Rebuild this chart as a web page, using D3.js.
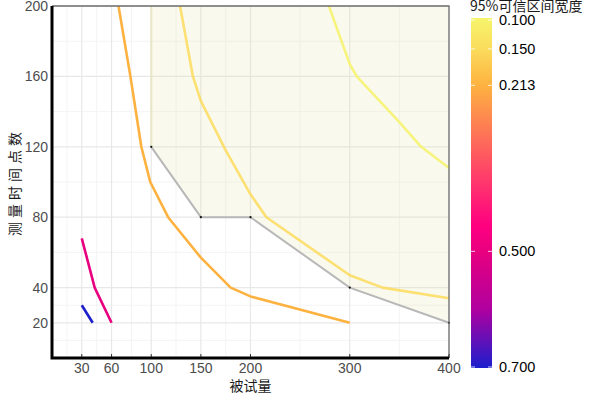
<!DOCTYPE html>
<html lang="zh">
<head>
  <meta charset="UTF-8">
  <title>95%可信区间宽度</title>
  <style>
    body { margin: 0; padding: 0; background: #fff; }
    svg { display: block; }
    .tick-label { font-family: "Liberation Sans", Arial, sans-serif; font-size: 14px; fill: #4d4d4d; }
    .cb-label { font-family: "Liberation Sans", Arial, sans-serif; font-size: 14.5px; fill: #000; }
    .title { font-family: "Noto Sans CJK SC", sans-serif; font-size: 14px; fill: #1a1a1a; }
  </style>
  <script src="https://d3js.org/d3.v7.min.js"></script>
</head>
<body>
  <div id="chart"></div>

  <script>
    // axis ticks
    const xTicks = [30, 60, 100, 150, 200, 300, 400];
    const xMinor = [15, 45, 80, 125, 175, 250, 350];
    const yTicks = [20, 40, 80, 120, 160, 200];
    const yMinor = [10, 30, 60, 100, 140, 180];

    // colour bar
    const cbTicks = [0.1, 0.15, 0.213, 0.5, 0.7];
    const cbStops = [0.1, 0.15, 0.213, 0.455, 0.5, 0.6, 0.7];
    const cbColors = ["#f6f36a", "#fbdc5c", "#fdb240", "#ff0080", "#e8007f", "#b0009f", "#1e1ecc"];

    // contour lines: [被试量, 测量时间点数]
    const levels = [0.7, 0.5, 0.213, 0.15, 0.1];
    const line070 = [[30, 30], [41, 20]];
    const line050 = [[30, 68], [43, 40], [60, 20]];
    const line0213 = [[67, 200], [79, 160], [90, 120], [99, 100], [117, 80], [150, 57], [180, 40], [200, 35], [300, 20]];
    const line015 = [[129, 200], [142, 160], [150, 146], [175, 118], [200, 93], [216, 80], [300, 47], [333, 40], [400, 34]];
    const line010 = [[279, 200], [300, 167], [307, 160], [350, 134], [372, 120], [400, 108]];
    const contourLines = [line070, line050, line0213, line015, line010];

    // minimum design boundary (grey)
    const boundary = [[100, 120], [150, 80], [200, 80], [300, 40], [400, 20]];

    const width = 597, height = 399;
    const svg = d3.select("#chart").append("svg")
      .attr("width", width)
      .attr("height", height);

    const x = d3.scaleLinear().domain([0, 400]).range([52, 449]);
    const y = d3.scaleLinear().domain([0, 200]).range([358, 6]);
    const color = d3.scaleLinear().domain(cbStops).range(cbColors);

    // grid
    const grid = svg.append("g");
    grid.selectAll(".xminor").data(xMinor).enter().append("line")
      .attr("x1", d => x(d)).attr("x2", d => x(d))
      .attr("y1", y(0)).attr("y2", y(200))
      .attr("stroke", "#f4f4f4").attr("stroke-width", 1);
    grid.selectAll(".yminor").data(yMinor).enter().append("line")
      .attr("x1", x(0)).attr("x2", x(400))
      .attr("y1", d => y(d)).attr("y2", d => y(d))
      .attr("stroke", "#f4f4f4").attr("stroke-width", 1);
    grid.selectAll(".xmajor").data(xTicks).enter().append("line")
      .attr("x1", d => x(d)).attr("x2", d => x(d))
      .attr("y1", y(0)).attr("y2", y(200))
      .attr("stroke", "#e8e8e8").attr("stroke-width", 1.2);
    grid.selectAll(".ymajor").data(yTicks).enter().append("line")
      .attr("x1", x(0)).attr("x2", x(400))
      .attr("y1", d => y(d)).attr("y2", d => y(d))
      .attr("stroke", "#e8e8e8").attr("stroke-width", 1.2);

    // shaded feasible region above the boundary
    const region = [[boundary[0][0], 200]].concat(boundary, [[400, 200]]);
    const line = d3.line().x(d => x(d[0])).y(d => y(d[1]));
    svg.append("path")
      .attr("d", line(region) + "Z")
      .attr("fill", "#e6e0a6")
      .attr("fill-opacity", 0.2);
    svg.append("path")
      .attr("d", line([[boundary[0][0], 200], boundary[0]]))
      .attr("stroke", "#e6e2b8")
      .attr("stroke-opacity", 0.6)
      .attr("stroke-width", 2.5)
      .attr("fill", "none");

    // contour lines
    svg.selectAll(".contour").data(contourLines).enter().append("path")
      .attr("d", line)
      .attr("fill", "none")
      .attr("stroke", (d, i) => color(levels[i]))
      .attr("stroke-opacity", (d, i) => levels[i] < 0.2 ? 0.85 : 1)
      .attr("stroke-width", 2.6)
      .attr("stroke-linejoin", "round");

    // boundary line + points
    svg.append("path")
      .attr("d", line(boundary))
      .attr("fill", "none")
      .attr("stroke", "#b8b8b8")
      .attr("stroke-width", 2);
    svg.selectAll(".pt").data(boundary).enter().append("circle")
      .attr("cx", d => x(d[0])).attr("cy", d => y(d[1]))
      .attr("r", 1.1).attr("fill", "#111");

    // panel border (top/right)
    svg.append("path")
      .attr("d", `M${x(0)},${y(200)}H${x(400)}V${y(0)}`)
      .attr("fill", "none").attr("stroke", "#6e6e6e").attr("stroke-width", 1.3);

    // x ticks
    svg.selectAll(".xt").data(xTicks).enter().append("line")
      .attr("x1", d => x(d)).attr("x2", d => x(d))
      .attr("y1", y(0) - 4).attr("y2", y(0))
      .attr("stroke", "#333").attr("stroke-width", 1);

    // axis lines
    svg.append("path")
      .attr("d", `M${x(0)},${y(200)}V${y(0)}H${x(400)}`)
      .attr("fill", "none").attr("stroke", "#000").attr("stroke-width", 3);

    // tick labels
    svg.selectAll(".xl").data(xTicks).enter().append("text")
      .attr("class", "tick-label")
      .attr("x", d => x(d)).attr("y", y(0) + 15)
      .attr("text-anchor", "middle")
      .text(d => d);
    svg.selectAll(".yl").data(yTicks).enter().append("text")
      .attr("class", "tick-label")
      .attr("x", x(0) - 4).attr("y", d => y(d) + 5)
      .attr("text-anchor", "end")
      .text(d => d);

    // axis titles
    svg.append("text").attr("class", "title")
      .attr("x", x(200)).attr("y", 391)
      .attr("text-anchor", "middle")
      .text("被试量");
    svg.append("text").attr("class", "title")
      .attr("transform", `translate(20,${(y(0) + y(200)) / 2}) rotate(-90)`)
      .attr("text-anchor", "middle")
      .style("letter-spacing", "4px")
      .text("测量时间点数");

    // colour bar
    const cb = d3.scaleLinear().domain([0.1, 0.7]).range([20, 367]);
    const grad = svg.append("defs").append("linearGradient")
      .attr("id", "cbgrad")
      .attr("x1", 0).attr("y1", 0).attr("x2", 0).attr("y2", 1);
    grad.selectAll("stop").data(cbStops).enter().append("stop")
      .attr("offset", d => (cb(d) - 18) / (368 - 18))
      .attr("stop-color", (d, i) => cbColors[i]);
    svg.append("rect")
      .attr("x", 471).attr("y", 18)
      .attr("width", 21).attr("height", 350)
      .attr("fill", "url(#cbgrad)");
    svg.selectAll(".cbt").data(cbTicks).enter().append("g")
      .each(function (d) {
        const g = d3.select(this);
        g.append("line").attr("x1", 471).attr("x2", 475)
          .attr("y1", cb(d)).attr("y2", cb(d))
          .attr("stroke", "#fff").attr("stroke-opacity", 0.8);
        g.append("line").attr("x1", 488).attr("x2", 492)
          .attr("y1", cb(d)).attr("y2", cb(d))
          .attr("stroke", "#fff").attr("stroke-opacity", 0.8);
      });
    svg.selectAll(".cbl").data(cbTicks).enter().append("text")
      .attr("class", "cb-label")
      .attr("x", 499).attr("y", d => cb(d) + 5)
      .text(d => d3.format(".3f")(d));
    svg.append("text").attr("class", "title")
      .attr("x", 470).attr("y", 11)
      .text("95%可信区间宽度");
  </script>
</body>
</html>
